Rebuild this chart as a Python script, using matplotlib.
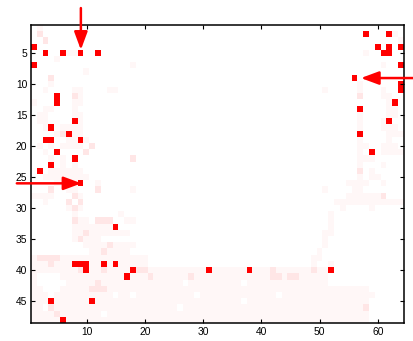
import numpy as np
import matplotlib
matplotlib.use('Agg')
import matplotlib.pyplot as plt
from matplotlib.colors import LinearSegmentedColormap

# cell intensity, one string per row (64 columns)
# '.' white, 'a' very faint pink, 'b' faint pink, 'R' full red
rows = [
    ".a...... ........ ........ ........ ........ ........ ........ ........",
    ".b...... ........ ........ ........ ........ ........ ........ .R...Ra.",
    "..b..... ........ ........ ........ ........ ........ ........ .......a",
    "R....... ........ ........ ........ ........ ........ ........ ...R.R.R",
    "..R..Raa R..R.... ........ ........ ........ ........ ........ .a..RR..",
    "....a... ........ ........ ........ ........ ........ ........ ........",
    "R....... ........ .a...... ........ ........ ........ ........ ....a..R",
    "........ .a...... ........ ........ ........ ........ ........ ........",
    "...b.... ........ ........ ........ ........ ........ .......R ........",
    "...a.... ........ ........ ........ ........ ........ ........ a......R",
    "..a....a a....aa. ........ ........ ........ ........ ..a..... a...a..R",
    "....R..b a....... ........ ........ ........ ........ ........ b...aa..",
    "a...R..a a....... ........ ........ ........ ........ ........ .....aR.",
    "..aa...a ........ ........ ........ ........ ........ ........ R....aa.",
    ".aa....a a....... ........ ........ ........ ........ ........ a....aa.",
    ".aa....R a....... ........ ........ ........ ........ ........ a...aR..",
    "..aR.aaa a....... ........ ........ ........ ........ ........ a...aaa.",
    "....abRa a....... ........ ........ ........ ........ ........ R....aaa",
    "..RR..aa Ra...... ........ ........ ........ ........ ........ a....a..",
    ".a.a.aaa a.b..... ........ ........ ........ ........ ........ aa..aaa.",
    "..a.R... .b...... ........ ........ ........ ........ ........ a.R.aaaa",
    "...a.a.R ........ .b...... ........ ........ ........ ........ aaa.....",
    "...R.a.a ........ ........ ........ ........ ........ ........ a...a...",
    ".R.aaaaa a....... ........ ........ ........ ........ ........ b.a.....",
    "..aaaaaa aa...... ........ ........ ........ ........ ........ a.aa....",
    "....aaaa R..a.... ........ ........ ........ ........ ......aa aa..a...",
    "...b..aa ...b.... .a...... ........ ........ ........ ..a....a a.......",
    "aaaa...b a....... ........ ........ ........ ........ ......aa aaaab...",
    "..a...b. b....... ........ ........ ........ ........ ....aaaa aaaaaaaa",
    "......ab a....... ........ ........ ........ ........ .....a.. ..a.....",
    ".......a .......a ........ ........ ........ ........ ...a.... ........",
    ".......b aa.bbb.. aa...... ........ ........ ........ ...a.... ........",
    ".......a aaaaaaR. ........ ........ ........ ........ ...a.... ........",
    ".......a abaaaaaa a....... ........ ........ ........ ..aa.... ........",
    ".......a baaa.... ........ ........ ........ ........ ..a..... ........",
    "........ .aaaabaa aa...... ........ ........ ........ ..a..... ........",
    "........ ..aabaaa a....... ........ ........ ........ .a...... ........",
    "abbbbaaa aaaaaaaa aaaa.... ........ ........ ........ aa...... ........",
    "aaabaaaR RRaaRaRa aaaa.... ........ ........ ........ a..a.... ........",
    "aaaaaaaa bRaabaaa aRbbaaaa aaaaaaRa aaaaaRaa abaaaaaa baaR.... ........",
    "a....aaa aaaaaaaa Raaabaaa aaabaaaa aaaaaaaa abbabbaa aaa..... ........",
    "a.....aa aaabaaaa aaaaaaaa aa.aaaaa aaaa.aaa aaaaaaaa aaa..... ........",
    "aa...aaa aabbbaaa aaaaaaaa aaaaaaaa aaaaaaaa aaaaaaaa aaaaaaaa aa......",
    "aaa.aaaa aaaaaa.a a.aaaaaa aaaa.aaa aaaaaaaa aa.aaaaa aaaaaaaa aaa.....",
    "aaaRaaaa aaRaaaaa aaaaaaaa aaaaaaaa aaaa.aaa aaaaaaaa aaaaaaaa aa......",
    "aa.baaaa aaaaaaaa aaaaaaaa a.aaaaaa aaaaaaaa aaaaaaaa aaaaaaaa ab......",
    "aaaabaaa aaaa.aaa aaaaaaaa aaaaaaaa aaaaaaaa aaaaaaaa aaaaaaaa aa......",
    "aaaaaRaa aaaaaaaa aaaaaaaa aaaaaaaa aaaaaaaa aaaaaaaa aaaaaaaa aa......",
]
levels = {'.': 0.0, 'a': 0.035, 'b': 0.10, 'R': 1.0}

# arrows: (tail col, tail row) -> (tip col, tip row)
arrows = [((9.0, -2.3), (9.0, 4.45)),
          ((66.8, 9.0), (57.1, 9.0)),
          ((-2.0, 26.0), (9.1, 26.0))]

xticks = [10, 20, 30, 40, 50, 60]
yticks = [5, 10, 15, 20, 25, 30, 35, 40, 45]

M = np.array([[levels[ch] for ch in r.replace(' ', '').ljust(64, '.')[:64]] for r in rows])
nrow, ncol = M.shape

plt.rcParams['font.family'] = ['Liberation Sans', 'DejaVu Sans']
fig = plt.figure(figsize=(4.14, 3.41), dpi=100)
ax = fig.add_axes([0.0758, 0.0537, 0.900, 0.8718])

cmap = LinearSegmentedColormap.from_list('wr', ['white', 'red'])
ax.imshow(M, cmap=cmap, vmin=0, vmax=1, aspect='auto', interpolation='nearest',
          extent=(0.5, ncol + 0.5, nrow + 0.5, 0.5))

ax.set_xticks(xticks)
ax.set_yticks(yticks)
ax.tick_params(direction='in', length=3, width=0.8, labelsize=7.4, pad=3,
               top=True, right=True, colors='black')
for s in ax.spines.values():
    s.set_linewidth(1.1)

for (tail, tip) in arrows:
    ax.annotate('', xy=tip, xytext=tail, annotation_clip=False,
                arrowprops=dict(arrowstyle='-|>,head_length=1.08,head_width=0.4',
                                mutation_scale=10, color='red', lw=1.8,
                                shrinkA=0, shrinkB=0))

fig.savefig('out.png', dpi=100)
